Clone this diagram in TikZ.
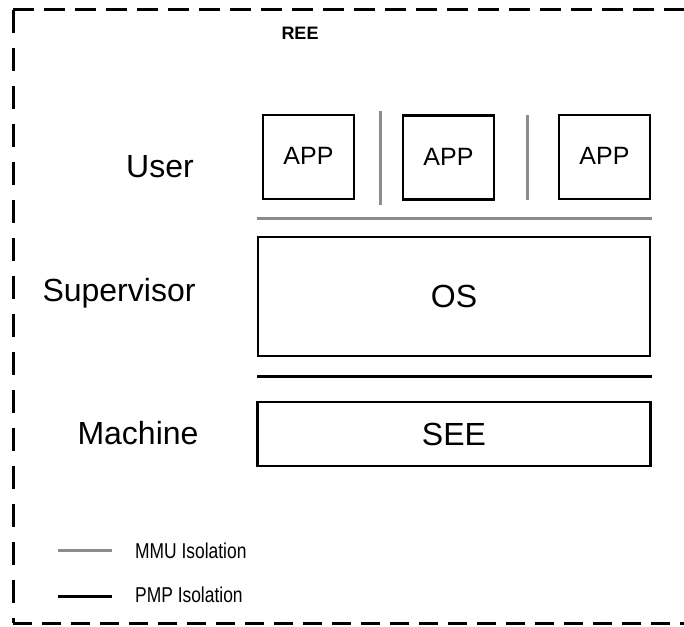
\documentclass[tikz,border=0pt]{standalone}
\usepackage{fontspec}
\setmainfont{Liberation Sans}
\begin{document}
\begin{tikzpicture}[x=1pt,y=-1pt,
  box/.style={draw=black,line width=2.6pt,rectangle,inner sep=0pt},
  lbl/.style={inner sep=0pt,font=\fontsize{32}{36}\selectfont},
  mmu/.style={draw=black!45,line width=3pt},
  pmp/.style={draw=black,line width=3pt},
  legtxt/.style={inner sep=0pt,anchor=west,font=\fontsize{21.5}{24}\selectfont},
  frame/.style={line width=3pt}]
\useasboundingbox (0,0) rectangle (684,626);
% dashed frame
\coordinate (tl) at (13,10);
\coordinate (tr) at (700,10);
\coordinate (bl) at (13,623);
\coordinate (br) at (700,623);
\draw[frame,dash pattern=on 21pt off 10pt] (tl) -- (tr);
\draw[frame,dash pattern=on 23pt off 15pt] (tl) -- (bl);
\draw[frame,dash pattern=on 19pt off 10pt] (bl) -- (br);
\node[inner sep=0pt,font=\fontsize{18}{20}\selectfont\bfseries] (ree) at (300,33) {REE};
% row labels
\node[lbl] (user) at (160,167) {User};
\node[lbl] (sup) at (119,293) {Supervisor};
\node[lbl] (mach) at (138,433) {Machine};
% APP boxes
\node[box,minimum width=91pt,minimum height=84pt,font=\fontsize{25}{28}\selectfont] (app1) at (308.5,157) {\raisebox{2pt}{APP}};
\node[box,minimum width=91pt,minimum height=84pt,font=\fontsize{25}{28}\selectfont] (app2) at (448.5,157.5) {\raisebox{2pt}{APP}};
\node[box,minimum width=91pt,minimum height=84pt,font=\fontsize{25}{28}\selectfont] (app3) at (604.5,157) {\raisebox{2pt}{APP}};
% OS and SEE
\node[box,minimum width=392pt,minimum height=119pt,font=\fontsize{32}{36}\selectfont] (os) at (454,296.5) {OS};
\node[box,minimum width=393pt,minimum height=64pt,font=\fontsize{32}{36}\selectfont] (see) at (454,434) {SEE};
% isolation lines
\coordinate (v1a) at (380,111); \coordinate (v1b) at (380,205);
\coordinate (v2a) at (527,115); \coordinate (v2b) at (527,200);
\coordinate (h1a) at (257,218); \coordinate (h1b) at (652,218);
\coordinate (h2a) at (257,376); \coordinate (h2b) at (652,376);
\draw[mmu] (v1a) -- (v1b);
\draw[mmu] (v2a) -- (v2b);
\draw[mmu] (h1a) -- (h1b);
\draw[pmp] (h2a) -- (h2b);
% legend
\coordinate (l1a) at (58,550); \coordinate (l1b) at (112,550);
\coordinate (l2a) at (58,596); \coordinate (l2b) at (112,596);
\draw[mmu] (l1a) -- (l1b);
\draw[pmp] (l2a) -- (l2b);
\node[legtxt] (mmutxt) at (135,551) {\scalebox{0.81}[1]{MMU Isolation}};
\node[legtxt] (pmptxt) at (135,595) {\scalebox{0.81}[1]{PMP Isolation}};
\end{tikzpicture}
\end{document}
